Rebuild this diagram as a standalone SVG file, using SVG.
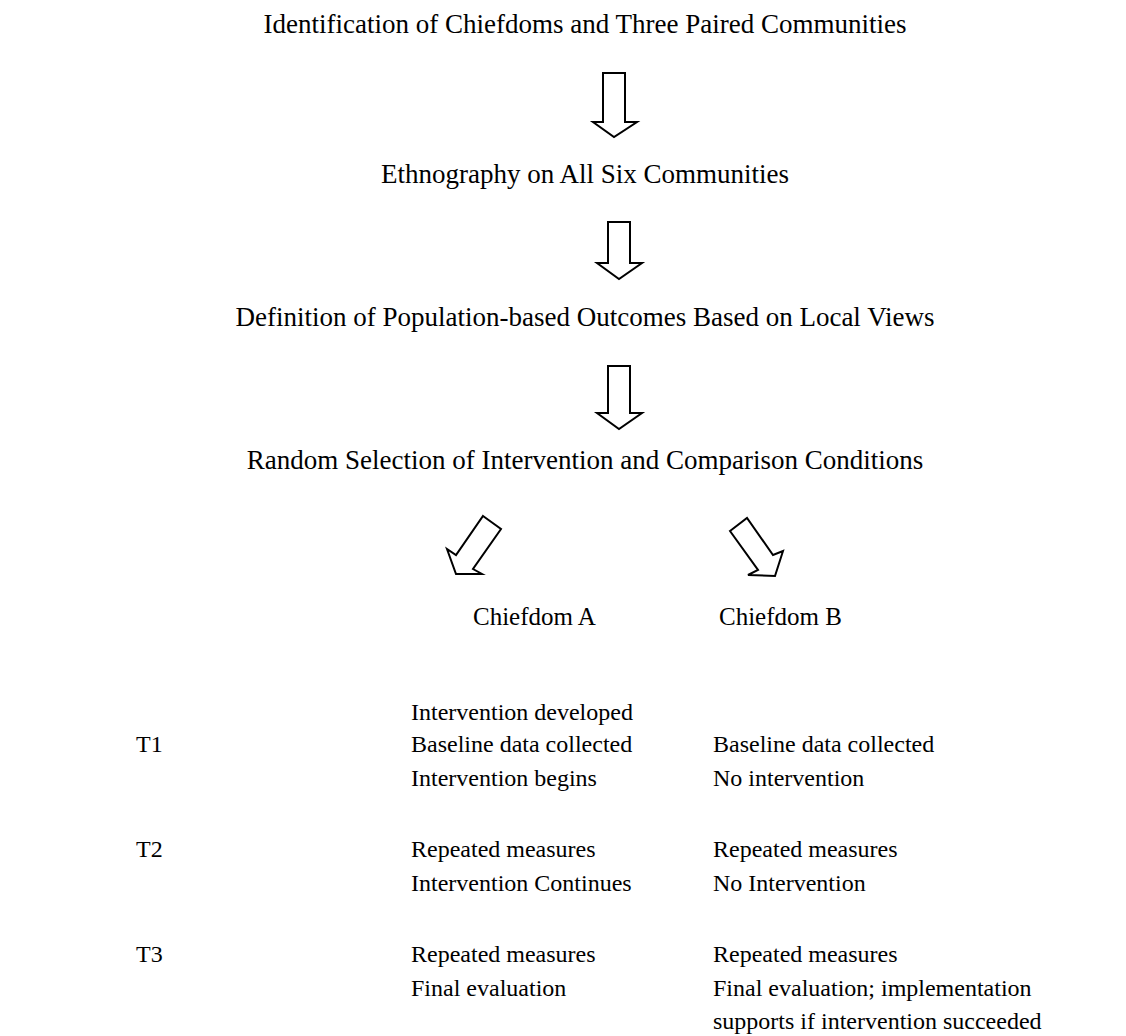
<svg xmlns="http://www.w3.org/2000/svg" width="1126" height="1036" viewBox="0 0 1126 1036">
  <style>
    text { font-family: "Liberation Serif", "Times New Roman", serif; font-size: 24px; fill: #000; }
    .head { font-size: 27px; text-anchor: middle; }
    .arm { font-size: 25px; }
    .arrow { fill: #fff; stroke: #000; stroke-width: 2; stroke-linejoin: miter; }
  </style>
  <rect width="1126" height="1036" fill="#fff"/>

  <g id="step-identification"><text class="head" x="585" y="33">Identification of Chiefdoms and Three Paired Communities</text></g>
  <g id="step-ethnography"><text class="head" x="585" y="183">Ethnography on All Six Communities</text></g>
  <g id="step-definition"><text class="head" x="585" y="326">Definition of Population-based Outcomes Based on Local Views</text></g>
  <g id="step-random"><text class="head" x="585" y="469">Random Selection of Intervention and Comparison Conditions</text></g>
  <g id="chiefdom-a"><text class="arm" x="473" y="625">Chiefdom A</text></g>
  <g id="chiefdom-b"><text class="arm" x="719" y="625">Chiefdom B</text></g>

  <g id="connectors">
    <polygon class="arrow" points="603,73 625,73 625,122 637,122 614,137 593,122 603,122"/>
    <polygon class="arrow" points="608,222 630,222 630,263 642,263 619,279 597,263 608,263"/>
    <polygon class="arrow" points="608,366 630,366 630,413 642,413 619,429 597,413 608,413"/>
    <polygon class="arrow" points="483,516 501,529 473,569 482,574 456,574 447,549 456,555"/>
    <polygon class="arrow" points="730,531 747,518 773,555 783,551 775,576 748,575 758,570"/>
  </g>

  <g id="timeline-labels">
    <text x="136" y="752">T1</text>
    <text x="136" y="857">T2</text>
    <text x="136" y="962">T3</text>
  </g>

  <g id="chiefdom-a-steps">
    <text x="411" y="720">Intervention developed</text>
    <text x="411" y="752">Baseline data collected</text>
    <text x="411" y="786">Intervention begins</text>
    <text x="411" y="857">Repeated measures</text>
    <text x="411" y="891">Intervention Continues</text>
    <text x="411" y="962">Repeated measures</text>
    <text x="411" y="996">Final evaluation</text>
  </g>

  <g id="chiefdom-b-steps">
    <text x="713" y="752">Baseline data collected</text>
    <text x="713" y="786">No intervention</text>
    <text x="713" y="857">Repeated measures</text>
    <text x="713" y="891">No Intervention</text>
    <text x="713" y="962">Repeated measures</text>
    <text x="713" y="996">Final evaluation; implementation</text>
    <text x="713" y="1029">supports if intervention succeeded</text>
  </g>
</svg>
